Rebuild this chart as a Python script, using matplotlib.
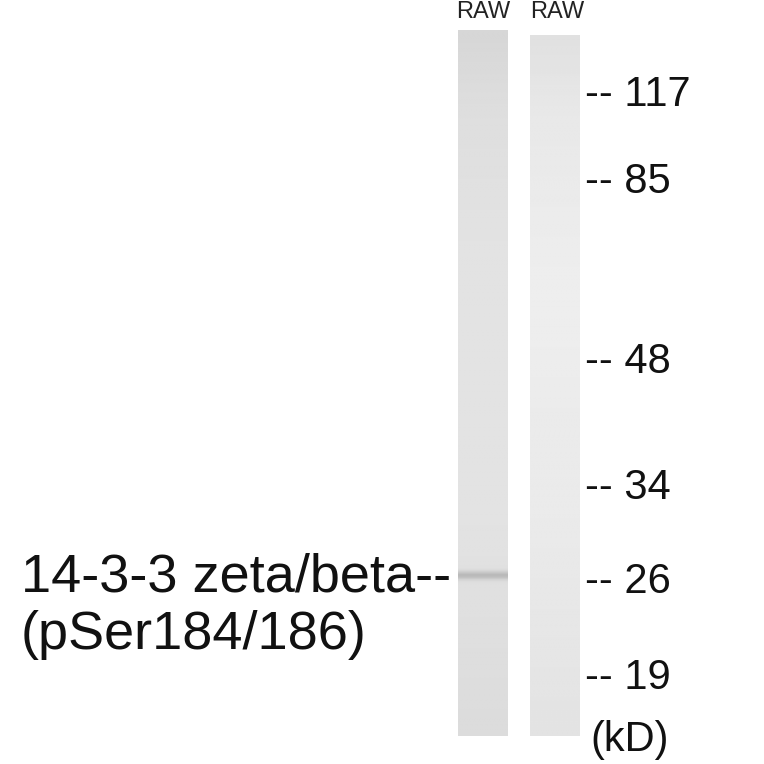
import numpy as np
import matplotlib.pyplot as plt

plt.rcParams['font.family'] = ['Liberation Sans', 'DejaVu Sans']

# markers (kD) and their y position in the blot
marker_labels = ["117", "85", "48", "34", "26", "19"]
marker_y = [95, 182, 362, 488, 582, 678]
lane_names = ["RAW", "RAW"]
band_label = ["14-3-3 zeta/beta--", "(pSer184/186)"]
# lane brightness profile top->bottom (0..1)
lane1_profile = [0.84, 0.87, 0.88, 0.89, 0.89, 0.89, 0.89, 0.88, 0.87, 0.86]
lane2_profile = [0.88, 0.91, 0.92, 0.93, 0.93, 0.92, 0.92, 0.91, 0.90, 0.89]
band_y = 576
band_strength = 0.16

fig = plt.figure(figsize=(7.64, 7.64), dpi=100)
ax = fig.add_axes([0, 0, 1, 1])
ax.set_xlim(0, 764)
ax.set_ylim(764, 0)
ax.axis("off")

def lane(x0, x1, y0, y1, profile, band=None):
    ys = np.linspace(y0, y1, 300)
    col = np.interp(ys, np.linspace(y0, y1, len(profile)), profile)
    if band is not None:
        col = col - band[1] * np.exp(-((ys - band[0]) / 4.0) ** 2)
    img = np.repeat(col[:, None], 20, axis=1)
    ax.imshow(img, cmap="gray", vmin=0, vmax=1, extent=[x0, x1, y1, y0],
              aspect="auto", interpolation="bilinear")

lane(458, 508, 30, 736, lane1_profile, (band_y, band_strength))
lane(530, 580, 35, 736, lane2_profile)

ax.text(483, 12, lane_names[0], ha="center", va="center", fontsize=17, color="#222")
ax.text(557, 12, lane_names[1], ha="center", va="center", fontsize=17, color="#222")

for lab, y in zip(marker_labels, marker_y):
    ax.text(585, y, "-- " + lab, ha="left", va="center", fontsize=30, color="#111")
ax.text(590, 740, "(kD)", ha="left", va="center", fontsize=30, color="#111")

ax.text(21, 578, band_label[0], ha="left", va="center", fontsize=39, color="#111")
ax.text(21, 635, band_label[1], ha="left", va="center", fontsize=39, color="#111")

fig.savefig("out.png", dpi=100)
